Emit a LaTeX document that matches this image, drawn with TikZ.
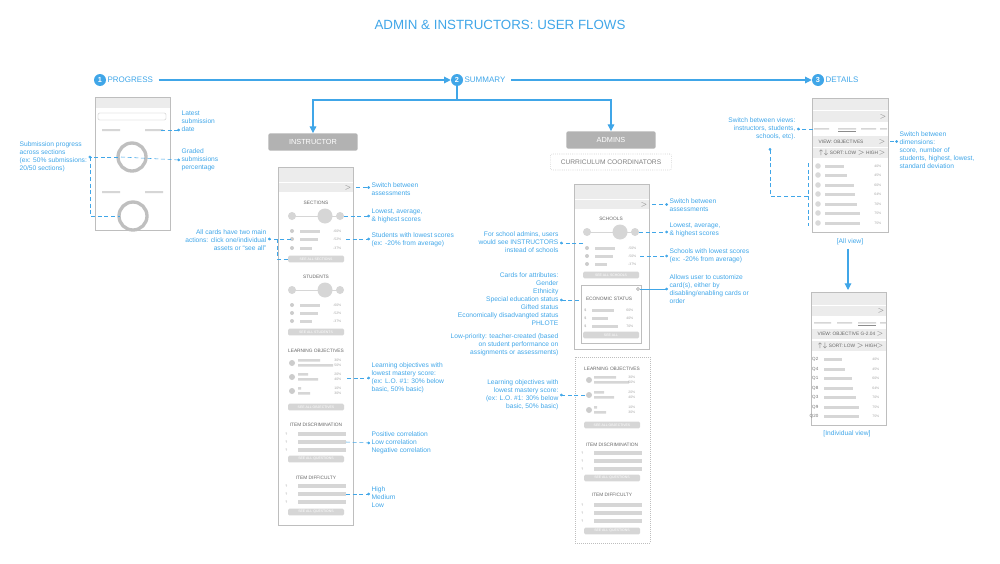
\documentclass[tikz,border=0pt]{standalone}
\usepackage{fontspec}
\setmainfont{Liberation Sans}
\usetikzlibrary{positioning,arrows.meta}

\definecolor{flowblue}{RGB}{64,166,232}
\definecolor{frame}{RGB}{190,190,190}
\definecolor{barcol}{RGB}{214,214,214}
\definecolor{headcol}{RGB}{236,236,236}

\tikzset{
  note/.style={font=\fontsize{5}{6}\selectfont, text=flowblue, inner sep=1pt, align=left},
  rnote/.style={note, align=right},
  lead/.style={flowblue, densely dashed, line width=0.4pt, -{Circle[length=2pt]}},
  flow/.style={flowblue, line width=0.8pt, -{Triangle[length=5pt,width=5pt]}},
  phone/.style={draw=frame, line width=0.6pt, fill=white},
  head/.style={fill=headcol},
  bar/.style={fill=barcol},
  ttl/.style={font=\fontsize{3.6}{4}\selectfont, text=black!60},
  pct/.style={font=\fontsize{2.6}{3}\selectfont, text=black!35, anchor=east},
  btn/.style={fill=barcol, rounded corners=1pt, minimum width=42pt, minimum height=5pt, inner sep=0pt, font=\fontsize{2.6}{3}\selectfont, text=white},
  rolebox/.style={fill=black!30, rounded corners=1.5pt, minimum width=67pt, minimum height=13pt, text=white, font=\fontsize{5.5}{6}\selectfont},
  stepnum/.style={circle, fill=flowblue, text=white, inner sep=0pt, minimum size=9pt, font=\bfseries\fontsize{5.5}{6}\selectfont},
  steplbl/.style={text=flowblue, font=\fontsize{6}{7}\selectfont, anchor=west, inner sep=1pt},
}

% three score dots on a line
\newcommand\scoredots[2]{%
  \draw[barcol, line width=0.6pt] (#1-24,#2) -- (#1+24,#2);
  \fill[barcol] (#1-24,#2) circle (4) (#1+9,#2) circle (7.5) (#1+24,#2) circle (4);}
% icon, bar and percentage
\newcommand\statrow[4]{%
  \fill[black!20] (#1-24,#2) circle (2);
  \fill[bar] (#1-16,#2-1.5) rectangle ++(#3,3);
  \node[pct] at (#1+30,#2) {#4};}
\newcommand\qrow[2]{%
  \node[pct, text=black!40] at (#1-24,#2) {?};
  \fill[bar] (#1-18,#2-1.8) rectangle ++(48,3.6);}

\begin{document}
\begin{tikzpicture}[x=0.75pt, y=-0.75pt]
\useasboundingbox (0,0) rectangle (1000,564);

% title and steps
\node[text=flowblue, font=\fontsize{10}{12}\selectfont] (title) at (500,25) {ADMIN \& INSTRUCTORS: USER FLOWS};
\node[stepnum] (s1) at (100,80) {1};
\node[steplbl] (l1) at (106,80) {PROGRESS};
\node[stepnum] (s2) at (457,80) {2};
\node[steplbl] (l2) at (463,80) {SUMMARY};
\node[stepnum] (s3) at (818,80) {3};
\node[steplbl] (l3) at (824,80) {DETAILS};
\draw[flow] (l1.east) ++(4,0) coordinate (f1) -- (s2.west);
\draw[flow] (l2.east) ++(4,0) coordinate (f2) -- (s3.west);

% roles
\node[rolebox] (instr) at (313,142) {INSTRUCTOR};
\node[rolebox] (admins) at (611,140) {ADMINS};
\node[draw=frame, densely dotted, rounded corners=1.5pt, minimum width=91pt, minimum height=12pt, text=black!50, font=\fontsize{5}{6}\selectfont] (curric) at (611,162) {CURRICULUM COORDINATORS};
\coordinate (split) at (457,100);
\draw[flowblue, line width=0.8pt] (s2.south) -- (split);
\draw[flow] (split) -| (instr.north);
\draw[flow] (split) -| (admins.north);

% ---------- progress phone
\draw[phone] (95,97) rectangle (170,230);
\fill[head] (95.5,97.5) rectangle (169.5,108);
\draw[frame, line width=0.3pt, rounded corners=1pt] (98,113) rectangle (166,120);
\fill[bar] (102,129) rectangle ++(18,2) (145,129) rectangle ++(18,2) (102,191) rectangle ++(18,2) (145,191) rectangle ++(18,2);
\draw[black!25, line width=2.5pt] (132,157) circle (14) (133,216) circle (14);
\coordinate (ring1) at (118,157);
\coordinate (ring2) at (120,216);
\node[note, anchor=west] (latest) at (180,121) {Latest\\submission\\date};
\node[note, anchor=west] (graded) at (180,160) {Graded\\submissions\\percentage};
\node[note, anchor=west] (subprog) at (18,157) {Submission progress\\across sections\\(ex: 50\% submissions:\\20/50 sections)};
\draw[lead] (161,130) -- (latest.west |- 161,130);
\draw[lead] (ring1) ++(3,0) -- (graded.west |- 0,160);
\draw[lead] (ring1) -- (subprog.east |- ring1);
\draw[flowblue, densely dashed, line width=0.4pt] (90,157) |- (ring2);

% ---------- instructor phone
\draw[phone] (278,167) rectangle (353,525);
\fill[head] (278.5,167.5) rectangle (352.5,182);
\fill[head] (278.5,183) rectangle (352.5,192);
\node[text=black!50, font=\fontsize{4}{4}\selectfont] (isw) at (348,187.5) {$>$};
\node[ttl] (isec) at (316,203) {SECTIONS};
\scoredots{316}{216}
\statrow{316}{231}{20}{-60\%}
\statrow{316}{239}{18}{-52\%}
\statrow{316}{248}{12}{-37\%}
\node[btn] (ib1) at (316,259) {SEE ALL SECTIONS};
\node[ttl] (istu) at (316,277) {STUDENTS};
\scoredots{316}{290}
\statrow{316}{305}{20}{-60\%}
\statrow{316}{313}{18}{-52\%}
\statrow{316}{321}{12}{-37\%}
\node[btn] (ib2) at (316,332) {SEE ALL STUDENTS};
\node[ttl] (ilo) at (316,351) {LEARNING OBJECTIVES};
\foreach \y/\a/\b/\p/\q in {363/22/35/30\%/50\%, 377/10/20/20\%/40\%, 391/3/12/10\%/30\%}{
  \fill[black!20] (292,\y) circle (3);
  \fill[bar] (298,\y-4) rectangle ++(\a,2.5) (298,\y+1) rectangle ++(\b,2.5);
  \node[pct] at (346,\y-3) {\p};
  \node[pct] at (346,\y+2.5) {\q};}
\node[btn] (ib3) at (316,407) {SEE ALL OBJECTIVES};
\node[ttl] (idis) at (316,425) {ITEM DISCRIMINATION};
\foreach \y in {434,442,450}{\qrow{316}{\y}}
\node[btn] (ib4) at (316,459) {SEE ALL QUESTIONS};
\node[ttl] (idif) at (316,478) {ITEM DIFFICULTY};
\foreach \y in {486,494,502}{\qrow{316}{\y}}
\node[btn] (ib5) at (316,512) {SEE ALL QUESTIONS};

\node[note, anchor=west] (in1) at (370,189) {Switch between\\assessments};
\node[note, anchor=west] (in2) at (370,216) {Lowest, average,\\\& highest scores};
\node[note, anchor=west] (in3) at (370,240) {Students with lowest scores\\(ex: -20\% from average)};
\node[note, anchor=west] (in4) at (370,378) {Learning objectives with\\lowest mastery score:\\(ex: L.O. \#1: 30\% below\\basic, 50\% basic)};
\node[note, anchor=west] (in5) at (370,443) {Positive correlation\\Low correlation\\Negative correlation};
\node[note, anchor=west] (in6) at (370,497) {High\\Medium\\Low};
\node[rnote, anchor=east] (in7) at (268,240) {All cards have two main\\actions: click one/individual\\assets or ``see all''};
\draw[lead] (isw.east) -- (in1.west |- isw);
\draw[lead] (344,216) -- (in2.west |- 0,216);
\draw[lead] (346,239) -- (in3.west |- 0,239);
\draw[lead] (347,378) -- (in4.west |- 0,378);
\draw[lead] (346,442) -- (in5.west);
\draw[lead] (346,494) -- (in6.west |- 0,494);
\draw[lead] (291,239) -- (in7.east |- 0,239);
\draw[flowblue, densely dashed, line width=0.4pt] (277,239) |- (ib1.west);

% ---------- admins phone
\draw[phone] (574,184) rectangle (649,349);
\fill[head] (574.5,184.5) rectangle (648.5,199);
\fill[head] (574.5,200) rectangle (648.5,209);
\node[text=black!50, font=\fontsize{4}{4}\selectfont] (asw) at (644,204.5) {$>$};
\node[ttl] (asch) at (611,219) {SCHOOLS};
\scoredots{611}{232}
\statrow{611}{248}{20}{-50\%}
\statrow{611}{256}{18}{-50\%}
\statrow{611}{264}{12}{-37\%}
\node[btn] (ab1) at (611,275) {SEE ALL SCHOOLS};
\draw[frame, line width=0.3pt] (581,285) rectangle (641,343);
\draw[black!40, line width=0.3pt] (638,289) circle (1.5);
\node[ttl] (aeco) at (609,299) {ECONOMIC STATUS};
\foreach \y/\w/\p in {310/22/60\%, 318/16/40\%, 326/26/70\%}{
  \node[pct, text=black!40] at (591,\y) {\$};
  \fill[bar] (592,\y-1.5) rectangle ++(\w,3);
  \node[pct] at (638,\y) {\p};}
\node[btn] (ab2) at (611,335) {SEE ALL};

% ---------- admins low-priority cards
\draw[frame, densely dotted, line width=0.5pt] (575,357) rectangle (650,543);
\node[ttl] (alo) at (612,369) {LEARNING OBJECTIVES};
\foreach \y/\a/\b/\p/\q in {380/22/35/30\%/50\%, 395/10/20/20\%/40\%, 410/3/12/10\%/30\%}{
  \fill[black!20] (589,\y) circle (3);
  \fill[bar] (594,\y-4) rectangle ++(\a,2.5) (594,\y+1) rectangle ++(\b,2.5);
  \node[pct] at (640,\y-3) {\p};
  \node[pct] at (640,\y+2.5) {\q};}
\node[btn] (ab3) at (612,425) {SEE ALL OBJECTIVES};
\node[ttl] (adis) at (612,445) {ITEM DISCRIMINATION};
\foreach \y in {453,461,469}{\qrow{612}{\y}}
\node[btn] (ab4) at (612,478) {SEE ALL QUESTIONS};
\node[ttl] (adif) at (612,495) {ITEM DIFFICULTY};
\foreach \y in {505,513,521}{\qrow{612}{\y}}
\node[btn] (ab5) at (612,531) {SEE ALL QUESTIONS};

\node[note, anchor=west] (an1) at (668,205) {Switch between\\assessments};
\node[note, anchor=west] (an2) at (668,230) {Lowest, average,\\\& highest scores};
\node[note, anchor=west] (an3) at (668,256) {Schools with lowest scores\\(ex: -20\% from average)};
\node[note, anchor=west] (an4) at (668,289) {Allows user to customize\\card(s), either by\\disabling/enabling cards or\\order};
\node[rnote, anchor=east] (an5) at (560,242) {For school admins, users\\would see INSTRUCTORS\\instead of schools};
\node[rnote, anchor=east] (an6) at (560,299) {Cards for attributes:\\Gender\\Ethnicity\\Special education status\\Gifted status\\Economically disadvangted status\\PHLOTE};
\node[rnote, anchor=east] (an7) at (560,345) {Low-priority: teacher-created (based\\on student performance on\\assignments or assessments)};
\node[rnote, anchor=east] (an8) at (560,395) {Learning objectives with\\lowest mastery score:\\(ex: L.O. \#1: 30\% below\\basic, 50\% basic)};
\draw[lead] (asw.east) -- (an1.west |- asw);
\draw[lead] (639,232) -- (an2.west |- 0,232);
\draw[lead] (640,256) -- (an3.west |- 0,256);
\draw[lead, solid] (640,289) -- (an4.west |- 0,289);
\draw[lead] (583,243) -- (an5.east |- 0,243);
\draw[lead] (579,300) -- (an6.east |- 0,300);
\draw[lead] (585,395) -- (an8.east |- 0,395);

% ---------- details: all view
\draw[phone] (812,98) rectangle (888,232);
\fill[head] (812.5,98.5) rectangle (887.5,110);
\fill[head] (812.5,111) rectangle (887.5,122);
\node[text=black!50, font=\fontsize{4}{4}\selectfont] (dsw) at (883,116.5) {$>$};
\fill[bar] (814,128) rectangle ++(15,1.5) (838,128) rectangle ++(18,1.5) (861,128) rectangle ++(15,1.5) (880,128) rectangle ++(7,1.5);
\draw[black!45, line width=0.4pt] (838,131) -- ++(18,0);
\fill[head] (812.5,136) rectangle (887.5,147);
\node[font=\fontsize{3.6}{4}\selectfont, text=black!60, anchor=west] (dview) at (814,141.5) {VIEW: OBJECTIVES};
\node[text=black!50, font=\fontsize{4}{4}\selectfont] (dvar) at (882,141.5) {$>$};
\fill[head] (812.5,148) rectangle (887.5,158);
\node[font=\fontsize{3.6}{4}\selectfont, text=black!60, anchor=west] (dsort) at (814,153) {\ensuremath{\uparrow\downarrow} SORT: LOW $>$ HIGH};
\node[text=black!50, font=\fontsize{4}{4}\selectfont] at (882,153) {$>$};
\foreach \y/\w/\p [count=\i] in {166/19/40\%, 175/22/45\%, 185/29/60\%, 194/30/64\%, 204/32/70\%, 213/35/75\%, 223/35/75\%}{
  \fill[black!15] (818,\y) circle (2.8);
  \fill[bar] (825,\y-1.5) rectangle ++(\w,3);
  \node[pct] at (886,\y) {\p};}
\node[note] (allv) at (850,242) {[All view]};

% ---------- details: individual view
\draw[phone] (811,292) rectangle (886,425);
\fill[head] (811.5,292.5) rectangle (885.5,305);
\fill[head] (811.5,306) rectangle (885.5,316);
\node[text=black!50, font=\fontsize{4}{4}\selectfont] at (881,311) {$>$};
\fill[bar] (814,322) rectangle ++(17,1.5) (837,322) rectangle ++(15,1.5) (858,322) rectangle ++(18,1.5) (880,322) rectangle ++(6,1.5);
\draw[black!45, line width=0.4pt] (858,325) -- ++(18,0);
\fill[head] (811.5,329) rectangle (885.5,339);
\node[font=\fontsize{3.6}{4}\selectfont, text=black!60, anchor=west] at (813,334) {VIEW: OBJECTIVE G-2.04};
\node[text=black!50, font=\fontsize{4}{4}\selectfont] at (880,334) {$>$};
\fill[head] (811.5,341) rectangle (885.5,351);
\node[font=\fontsize{3.6}{4}\selectfont, text=black!60, anchor=west] at (813,346) {\ensuremath{\uparrow\downarrow} SORT: LOW $>$ HIGH};
\node[text=black!50, font=\fontsize{4}{4}\selectfont] at (880,346) {$>$};
\foreach \q/\y/\w/\p in {Q2/359/18/40\%, Q4/369/21/45\%, Q1/378/28/60\%, Q8/388/29/64\%, Q3/397/32/70\%, Q9/407/35/75\%, Q20/416/35/75\%}{
  \node[font=\fontsize{3.4}{4}\selectfont, text=black!55, anchor=east] at (823,\y) {\q};
  \fill[bar] (824,\y-1.5) rectangle ++(\w,3);
  \node[pct] at (884,\y) {\p};}
\node[note] (indv) at (847,434) {[Individual view]};
\draw[flow] (allv.south) ++(-2,2) coordinate (av) -- (av |- 0,290);

% details notes
\node[rnote, anchor=east] (dn1) at (797,129) {Switch between views:\\instructors, students,\\schools, etc).};
\node[note, anchor=west] (dn2) at (898,150) {Switch between\\dimensions:\\score, number of\\students, highest, lowest,\\standard deviation};
\draw[lead] (813,129) -- (dn1.east |- 0,129);
\draw[lead] (dvar.east) -- (dn2.west |- dvar);
\draw[flowblue, densely dashed, line width=0.4pt] (808,163) -- (808,226);
\draw[lead] (808,196) -| (770,148);
\end{tikzpicture}
\end{document}
